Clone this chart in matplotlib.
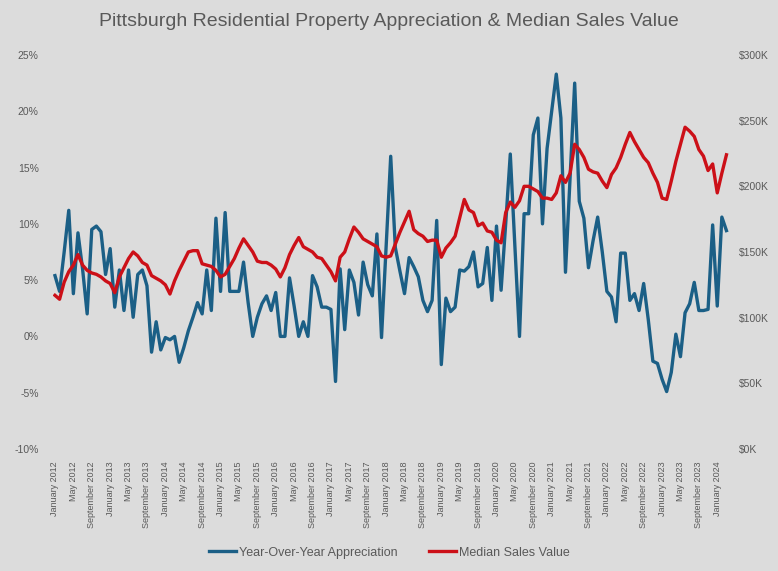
import pandas as pd
from matplotlib import pyplot as plt
from matplotlib.ticker import FuncFormatter

# monthly series, January 2012 onward
yoy_pct = [
    5.4, 4.0, 7.5, 11.2, 3.8, 9.2, 6.0, 2.0, 9.5, 9.8, 9.3, 5.5,
    7.8, 2.6, 5.9, 2.3, 5.9, 1.7, 5.5, 5.9, 4.5, -1.4, 1.3, -1.2,
    -0.1, -0.3, 0.0, -2.3, -1.0, 0.5, 1.7, 3.0, 2.0, 5.9, 2.3, 10.5,
    4.0, 11.0, 4.0, 4.0, 4.0, 6.6, 3.0, 0.0, 1.7, 2.9, 3.6, 2.3,
    3.9, 0.0, 0.0, 5.2, 2.7, 0.0, 1.3, 0.0, 5.4, 4.4, 2.6, 2.6,
    2.4, -4.0, 6.0, 0.6, 5.9, 4.8, 1.9, 6.6, 4.6, 3.6, 9.1, -0.1,
    8.0, 16.0, 7.9, 5.8, 3.8, 7.0, 6.2, 5.3, 3.2, 2.2, 3.2, 10.3,
    -2.5, 3.4, 2.2, 2.6, 5.9, 5.8, 6.2, 7.5, 4.4, 4.7, 7.9, 3.2,
    9.8, 4.1, 10.0, 16.2, 8.0, 0.0, 10.9, 10.9, 17.9, 19.4, 10.0, 16.7,
    20.0, 23.3, 19.4, 5.7, 14.0, 22.5, 12.0, 10.5, 6.1, 8.5, 10.6, 7.5,
    4.0, 3.5, 1.3, 7.4, 7.4, 3.2, 3.8, 2.3, 4.7, 1.5, -2.2, -2.4,
    -3.8, -4.9, -3.2, 0.2, -1.8, 2.1, 2.9, 4.8, 2.3, 2.3, 2.4, 9.9,
    2.7, 10.6, 9.4,
]

median_k = [
    117, 114, 127, 135, 140, 148, 140, 136, 134, 133, 131, 128,
    126, 119, 131, 138, 145, 150, 147, 142, 140, 132, 130, 128,
    125, 118, 128, 136, 143, 150, 151, 151, 141, 140, 139, 136,
    131, 133, 139, 145, 153, 160, 155, 150, 143, 142, 142, 140,
    137, 131, 138, 148, 155, 161, 154, 152, 150, 146, 145, 140,
    135, 128, 146, 150, 160, 169, 165, 160, 158, 156, 154, 147,
    146, 147, 156, 165, 173, 181, 167, 164, 162, 158, 159, 159,
    146, 153, 157, 162, 176, 190, 182, 180, 170, 172, 166, 165,
    159, 157, 180, 188, 184, 189, 200, 200, 198, 196, 191, 191,
    190, 195, 208, 203, 210, 232, 228, 222, 213, 211, 210, 204,
    199, 209, 214, 222, 232, 241, 234, 228, 222, 218, 210, 203,
    191, 190, 204, 219, 232, 245, 242, 238, 228, 223, 212, 217,
    195, 210, 224,
]

title = "Pittsburgh Residential Property Appreciation & Median Sales Value"
yoy_label = "Year-Over-Year Appreciation"
median_label = "Median Sales Value"

months = pd.date_range("2012-01-01", periods=len(yoy_pct), freq="MS")
tick_pos = list(range(0, len(months), 4))
tick_labels = [months[i].strftime("%B %Y") for i in tick_pos]

BG = "#dcdcdc"
TXT = "#595959"
BLUE = "#1b5f86"
RED = "#cc1018"

plt.rcParams['font.family'] = ['Liberation Sans', 'DejaVu Sans']

fig = plt.figure(figsize=(7.78, 5.71), dpi=100, facecolor=BG)
ax = fig.add_axes([0.0677, 0.2137, 0.869, 0.69])
ax.set_facecolor(BG)
ax2 = ax.twinx()

x = list(range(len(months)))
l1, = ax.plot(x, yoy_pct, color=BLUE, linewidth=2.4, label=yoy_label)
l2, = ax2.plot(x, median_k, color=RED, linewidth=2.4, label=median_label)

ax.set_xlim(-0.5, len(months) - 0.5)
ax.set_ylim(-10, 25)
ax.set_yticks(range(-10, 26, 5))
ax.yaxis.set_major_formatter(FuncFormatter(lambda v, p: f"{v:.0f}%"))
ax2.set_ylim(0, 300)
ax2.set_yticks(range(0, 301, 50))
ax2.yaxis.set_major_formatter(FuncFormatter(lambda v, p: f"${v:.0f}K"))

ax.set_xticks(tick_pos)
ax.set_xticklabels(tick_labels, rotation=90, fontsize=6.5, color=TXT)

for a in (ax, ax2):
    for s in a.spines.values():
        s.set_visible(False)
    a.tick_params(length=0, colors=TXT)
ax.tick_params(axis="y", labelsize=7.5, pad=10)
ax.tick_params(axis="x", pad=9)
ax2.tick_params(axis="y", labelsize=7.5, pad=7)

fig.text(0.5, 0.962, title, ha="center", va="center", fontsize=14, color=TXT)

fig.legend(handles=[l1, l2], loc="center", bbox_to_anchor=(0.5, 0.032), ncol=2,
           frameon=False, fontsize=9, labelcolor=TXT, handlelength=2.2,
           handletextpad=0.2, columnspacing=2.5)

fig.savefig("out.png", dpi=100, facecolor=BG)
